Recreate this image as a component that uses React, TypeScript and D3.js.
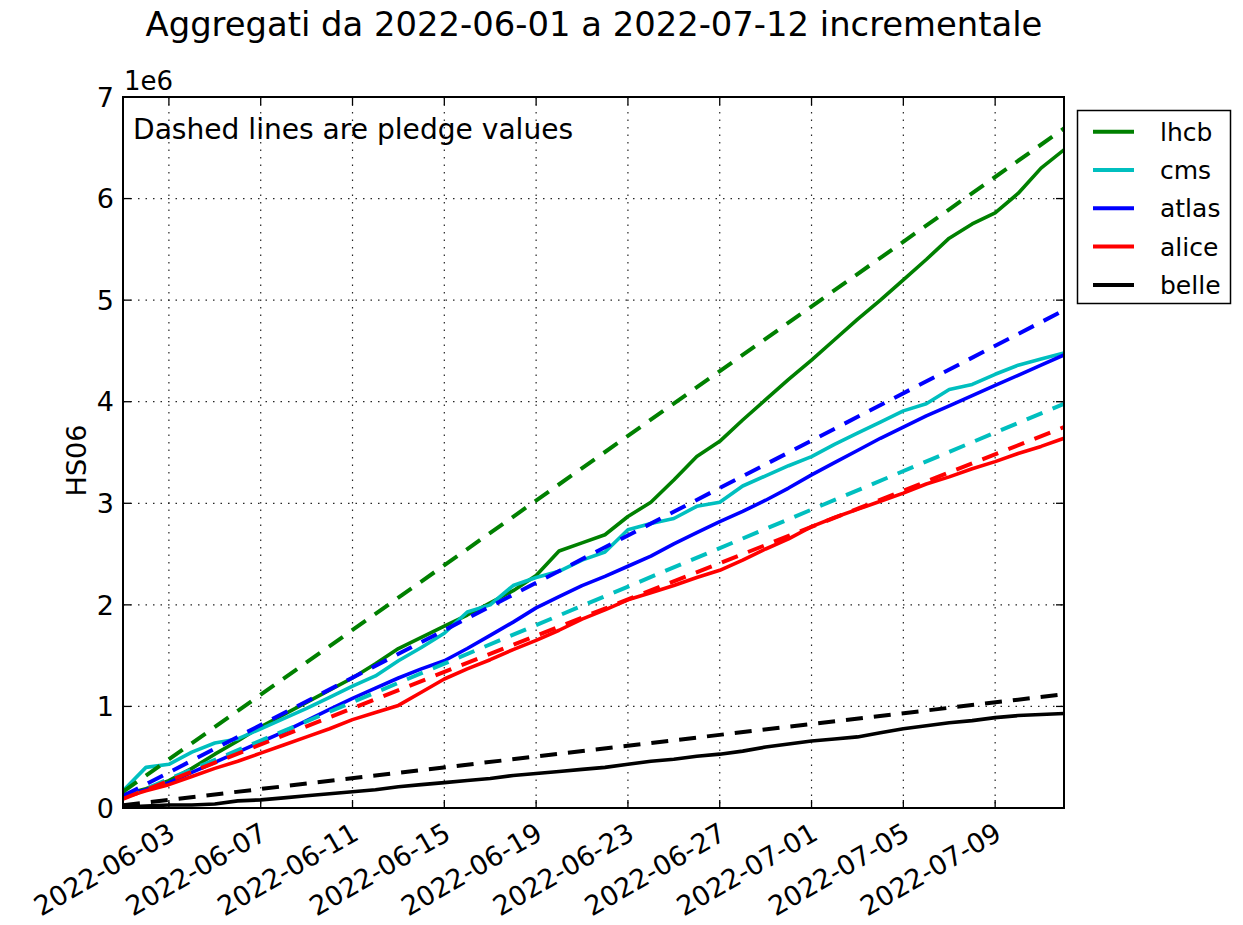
import React from "react";
import * as d3 from "d3";

// ---- data (values in units of 1e6 HS06) ----
const DATES: string[] = [
  "2022-06-01","2022-06-02","2022-06-03","2022-06-04","2022-06-05","2022-06-06","2022-06-07",
  "2022-06-08","2022-06-09","2022-06-10","2022-06-11","2022-06-12","2022-06-13","2022-06-14",
  "2022-06-15","2022-06-16","2022-06-17","2022-06-18","2022-06-19","2022-06-20","2022-06-21",
  "2022-06-22","2022-06-23","2022-06-24","2022-06-25","2022-06-26","2022-06-27","2022-06-28",
  "2022-06-29","2022-06-30","2022-07-01","2022-07-02","2022-07-03","2022-07-04","2022-07-05",
  "2022-07-06","2022-07-07","2022-07-08","2022-07-09","2022-07-10","2022-07-11","2022-07-12",
];

const LHCB = [0.13,0.19,0.27,0.39,0.53,0.66,0.80,0.92,1.04,1.16,1.28,1.42,1.57,1.68,1.79,1.90,2.02,2.14,2.29,2.53,2.61,2.69,2.87,3.01,3.23,3.46,3.61,3.82,4.02,4.22,4.41,4.61,4.81,5.00,5.20,5.40,5.61,5.75,5.86,6.05,6.30,6.48];
const CMS = [0.17,0.40,0.43,0.55,0.64,0.68,0.78,0.88,0.98,1.09,1.20,1.30,1.45,1.58,1.72,1.93,2.00,2.19,2.27,2.33,2.44,2.52,2.74,2.80,2.85,2.97,3.01,3.17,3.27,3.37,3.46,3.58,3.69,3.80,3.91,3.98,4.12,4.17,4.27,4.36,4.42,4.48];
const ATLAS = [0.12,0.18,0.25,0.35,0.45,0.55,0.65,0.75,0.86,0.97,1.08,1.18,1.28,1.37,1.45,1.57,1.70,1.83,1.97,2.08,2.19,2.28,2.38,2.48,2.60,2.71,2.82,2.92,3.03,3.15,3.28,3.40,3.52,3.64,3.75,3.86,3.96,4.06,4.16,4.26,4.36,4.46];
const ALICE = [0.10,0.17,0.23,0.31,0.39,0.46,0.54,0.62,0.70,0.78,0.87,0.94,1.01,1.14,1.27,1.37,1.46,1.56,1.65,1.75,1.86,1.95,2.05,2.12,2.19,2.27,2.34,2.44,2.55,2.65,2.77,2.86,2.94,3.02,3.10,3.19,3.26,3.34,3.41,3.49,3.56,3.64];
const BELLE = [0.01,0.02,0.03,0.03,0.04,0.07,0.08,0.10,0.12,0.14,0.16,0.18,0.21,0.23,0.25,0.27,0.29,0.32,0.34,0.36,0.38,0.40,0.43,0.46,0.48,0.51,0.53,0.56,0.60,0.63,0.66,0.68,0.70,0.74,0.78,0.81,0.84,0.86,0.89,0.91,0.92,0.93];

// pledge lines: straight, first and last day
const PLEDGE_DATES = ["2022-06-01", "2022-07-12"];
const LHCB_PLEDGE = [0.16, 6.69];
const CMS_PLEDGE = [0.095, 3.98];
const ATLAS_PLEDGE = [0.117, 4.9];
const ALICE_PLEDGE = [0.089, 3.75];
const BELLE_PLEDGE = [0.027, 1.12];

const SERIES_NAMES = ["lhcb", "cms", "atlas", "alice", "belle"];
const SERIES_COLORS = ["#008000", "#00bfbf", "#0000ff", "#ff0000", "#000000"];
const SERIES_VALUES = [LHCB, CMS, ATLAS, ALICE, BELLE];
const SERIES_PLEDGES = [LHCB_PLEDGE, CMS_PLEDGE, ATLAS_PLEDGE, ALICE_PLEDGE, BELLE_PLEDGE];

const X_TICKS = ["2022-06-03","2022-06-07","2022-06-11","2022-06-15","2022-06-19","2022-06-23","2022-06-27","2022-07-01","2022-07-05","2022-07-09"];
const Y_TICKS = [0, 1, 2, 3, 4, 5, 6, 7];

const TITLE = "Aggregati da 2022-06-01 a 2022-07-12 incrementale";
const Y_LABEL = "HS06";
const NOTE = "Dashed lines are pledge values";

const parse = d3.timeParse("%Y-%m-%d");

export default function App() {
  const W = 1243, H = 925;
  const L = 123, R = 1064, T = 97, B = 808;
  const x = d3.scaleTime().domain([parse(DATES[0])!, parse(DATES[DATES.length - 1])!]).range([L, R]);
  const y = d3.scaleLinear().domain([0, 7]).range([B, T]);
  const font = "'DejaVu Sans', sans-serif";

  const line = d3.line<[Date, number]>().x((d) => x(d[0])).y((d) => y(d[1]));
  const dates = DATES.map((d) => parse(d)!);
  const pDates = PLEDGE_DATES.map((d) => parse(d)!);

  const tickLen = 8;
  const legendRows = SERIES_NAMES.map((n, i) => ({ n, c: SERIES_COLORS[i], y: 131.7 + i * 38.3 }));

  return (
    <svg width={W} height={H} style={{ position: "absolute", left: 0, top: 0, background: "#fff" }} fontFamily={font}>
      <rect x={0} y={0} width={W} height={H} fill="#fff" />
      <text x={594} y={36} textAnchor="middle" fontSize={33.8} fill="#000">{TITLE}</text>

      <defs>
        <clipPath id="plotclip">
          <rect x={L} y={T} width={R - L} height={B - T} />
        </clipPath>
      </defs>

      {/* grid */}
      <g stroke="#000" strokeWidth={1.2} strokeDasharray="1.5,6" opacity={0.85}>
        {X_TICKS.map((t) => {
          const xx = x(parse(t)!);
          return <line key={t} x1={xx} x2={xx} y1={T} y2={B} />;
        })}
        {Y_TICKS.filter((v) => v > 0 && v < 7).map((v) => (
          <line key={v} x1={L} x2={R} y1={y(v)} y2={y(v)} />
        ))}
      </g>

      {/* series */}
      <g clipPath="url(#plotclip)" fill="none" strokeLinejoin="round">
        {SERIES_VALUES.map((vals, i) => (
          <path key={"s" + i} d={line(vals.map((v, j) => [dates[j], v]))!} stroke={SERIES_COLORS[i]} strokeWidth={3.6} />
        ))}
        {SERIES_PLEDGES.map((vals, i) => (
          <path key={"p" + i} d={line(vals.map((v, j) => [pDates[j], v]))!} stroke={SERIES_COLORS[i]} strokeWidth={4} strokeDasharray="17,11" />
        ))}
      </g>

      {/* ticks */}
      <g stroke="#000" strokeWidth={1.3}>
        {X_TICKS.map((t) => {
          const xx = x(parse(t)!);
          return (
            <g key={t}>
              <line x1={xx} x2={xx} y1={B} y2={B - tickLen} />
              <line x1={xx} x2={xx} y1={T} y2={T + tickLen} />
            </g>
          );
        })}
        {Y_TICKS.map((v) => (
          <g key={v}>
            <line x1={L} x2={L + tickLen} y1={y(v)} y2={y(v)} />
            <line x1={R} x2={R - tickLen} y1={y(v)} y2={y(v)} />
          </g>
        ))}
      </g>

      {/* frame */}
      <rect x={L} y={T} width={R - L} height={B - T} fill="none" stroke="#000" strokeWidth={2} />

      {/* tick labels */}
      {Y_TICKS.map((v) => (
        <text key={v} x={L - 9} y={y(v)} dy="0.36em" textAnchor="end" fontSize={27} fill="#000">{v}</text>
      ))}
      <text x={L + 1} y={90} fontSize={26} fill="#000">1e6</text>
      {X_TICKS.map((t) => {
        const xx = x(parse(t)!);
        return (
          <text key={t} transform={`translate(${xx - 2},${B + 13}) rotate(-30)`} dy="0.74em" textAnchor="end" fontSize={27} fill="#000">{t}</text>
        );
      })}

      <text transform={`translate(86,${(T + B) / 2 + 8}) rotate(-90)`} textAnchor="middle" fontSize={27} fill="#000">{Y_LABEL}</text>

      <text x={133} y={139} fontSize={28.1} fill="#000">{NOTE}</text>

      {/* legend */}
      <rect x={1077.5} y={110.5} width={153} height={193} fill="#fff" stroke="#000" strokeWidth={1.5} />
      {legendRows.map((r) => (
        <g key={r.n}>
          <line x1={1093} x2={1134} y1={r.y} y2={r.y} stroke={r.c} strokeWidth={4} />
          <text x={1160} y={r.y} dy="0.36em" fontSize={25} fill="#000">{r.n}</text>
        </g>
      ))}
    </svg>
  );
}
